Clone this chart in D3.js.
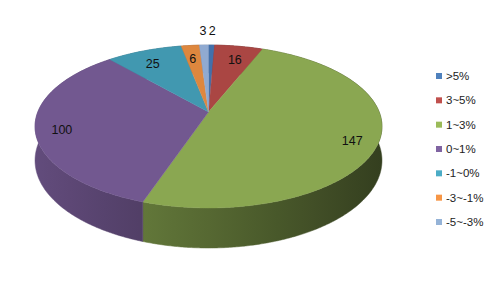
<!DOCTYPE html>
<html><head><meta charset="utf-8">
<script src="https://cdn.jsdelivr.net/npm/d3@7"></script>
<style>body{margin:0;background:#fff;overflow:hidden}</style></head>
<body>
<script>
const categories = [">5%", "3~5%", "1~3%", "0~1%", "-1~0%", "-3~-1%", "-5~-3%"];
const values = [2, 16, 147, 100, 25, 6, 3];
const legendColors = ["#4F81BD", "#C0504D", "#9BBB59", "#8064A2", "#4BACC6", "#F79646", "#95B3D7"];
const topColors = ["#4270AA", "#AA4643", "#8AA751", "#725890", "#4198B0", "#DE873E", "#90AAD1"];

const W = 494, H = 293;
const svg = d3.select("body").append("svg").attr("width", W).attr("height", H)
  .style("font-family", "'Liberation Sans', Arial, sans-serif");
const defs = svg.append("defs");

// perspective disk projection
const cx = 208.5, cy = 112, A = 170.7, B = 78.9, k = 0.178, D = 32.9;
function proj(phi, r, z) {
  const u = r * Math.sin(phi), v = -r * Math.cos(phi);
  const w = 1 - k * v;
  return [cx + A * u / w, cy + (B * v + D * z) / w];
}
const halfW = A / Math.sqrt(1 - k * k);
const shade = d3.scaleLinear().domain([-1, 1]).range([0.86, 0.38]);

const pie = d3.pie().sort(null).startAngle(0).endAngle(2 * Math.PI);
const arcs = pie(values);
const step = Math.PI / 360;

function arcPoints(a, b, r, z) {
  const n = Math.max(2, Math.ceil((b - a) / step));
  return d3.range(n + 1).map(i => proj(a + (b - a) * i / n, r, z));
}

// gradients for sides
topColors.forEach((c, i) => {
  const g = defs.append("linearGradient").attr("id", "side" + i)
    .attr("gradientUnits", "userSpaceOnUse")
    .attr("x1", cx - halfW).attr("x2", cx + halfW).attr("y1", 0).attr("y2", 0);
  d3.range(11).forEach(j => {
    const t = j / 10, u = -1 + 2 * t, f = shade(u);
    const rgb = d3.rgb(c);
    g.append("stop").attr("offset", t)
      .attr("stop-color", d3.rgb(rgb.r * f, rgb.g * f, rgb.b * f).formatHex());
  });
});

const line = d3.line();
// sides
svg.append("g").selectAll("path").data(arcs).join("path")
  .attr("d", d => {
    const t = arcPoints(d.startAngle, d.endAngle, 1, 0);
    const b = arcPoints(d.startAngle, d.endAngle, 1, 1).reverse();
    return line(t.concat(b)) + "Z";
  })
  .attr("fill", (d, i) => `url(#side${i})`)
  .attr("stroke", (d, i) => `url(#side${i})`).attr("stroke-width", 0.5);

// tops
svg.append("g").selectAll("path").data(arcs).join("path")
  .attr("d", d => line([proj(0, 0, 0)].concat(arcPoints(d.startAngle, d.endAngle, 1, 0))) + "Z")
  .attr("fill", (d, i) => topColors[i])
  .attr("stroke", (d, i) => topColors[i]).attr("stroke-width", 0.4);

// labels
const total = d3.sum(values);
svg.append("g").selectAll("text").data(arcs).join("text")
  .attr("transform", d => {
    const mid = (d.startAngle + d.endAngle) / 2;
    const small = d.value / total < 0.015;
    const p = proj(mid, small ? 1.25 : 0.85, 0);
    return `translate(${p[0]},${p[1] + (small ? 0 : 5)})`;
  })
  .attr("text-anchor", "middle").attr("dominant-baseline", "central")
  .attr("font-size", 12.5).attr("fill", "#111")
  .text(d => d.data);

// legend
const ly = d3.scalePoint().domain(categories).range([76, 222]);
const lg = svg.append("g").selectAll("g").data(categories).join("g")
  .attr("transform", d => `translate(436,${ly(d)})`);
lg.append("rect").attr("x", 0).attr("y", -3).attr("width", 6).attr("height", 6)
  .attr("fill", (d, i) => legendColors[i]);
lg.append("text").attr("x", 10).attr("y", 0).attr("dominant-baseline", "central")
  .attr("font-size", 11.5).attr("fill", "#222").text(d => d);
</script>
</body></html>
